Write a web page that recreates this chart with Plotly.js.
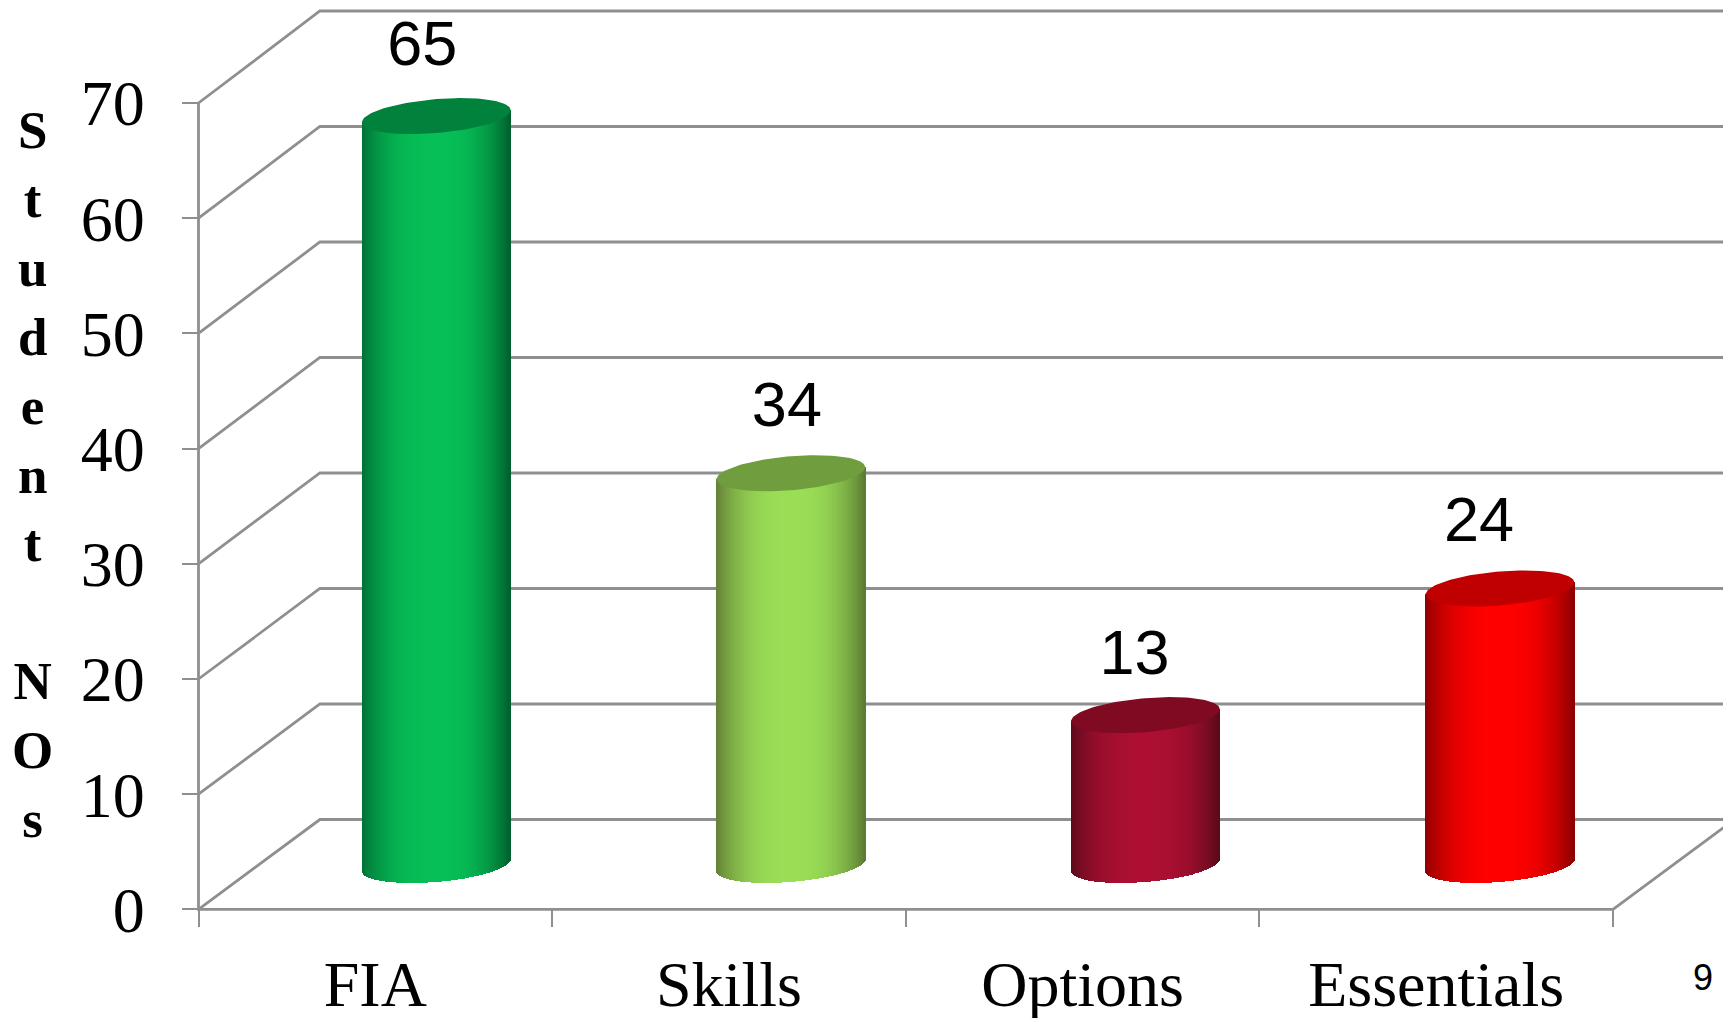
<!DOCTYPE html>
<html>
<head>
<meta charset="utf-8">
<title>Student numbers by pathway</title>
<script src="https://cdn.plot.ly/plotly-3.0.1.min.js"></script>
<style>html,body{margin:0;padding:0;background:#fff;overflow:hidden}</style>
</head>
<body>
<div id="chart" style="width:1723px;height:1018px"></div>
<script>
// Chart values
const categories = ['FIA', 'Skills', 'Options', 'Essentials'];
const students = [65, 34, 13, 24];
const yTicks = [0, 10, 20, 30, 40, 50, 60, 70];
const titleLetters = ['S', 't', 'u', 'd', 'e', 'n', 't', '&nbsp;', 'N', 'O', 's'];

// Cylinder colours: shaded edge left / right, bright centre, lid
const edgeLeft = ['#006f36', '#647f37', '#5f0a1c', '#8f0000'];
const edgeRight = ['#005f2d', '#5a7a31', '#5a0a1a', '#8a0000'];
const centres = ['#06bf56', '#9ade56', '#ac0f31', '#ff0000'];
const lids = ['#00823c', '#709d3e', '#7f0a22', '#c00000'];

// Figure geometry: the axes fill the figure, and the front plane of the box
// is located inside them by these pixel positions
const W = 1723, H = 1018;
const frontLeft = 198.5, frontRight = 1613, frontBottom = 909.4, frontTop = 103;
const pxPerCat = (frontRight - frontLeft) / categories.length;
const pxPerUnit = (frontBottom - frontTop) / 70;
const toXUnits = px => px / pxPerCat;
const toYUnits = px => px / pxPerUnit;
const x0 = -0.5, x1 = categories.length - 0.5;
const xRange = [x0 - toXUnits(frontLeft), x0 + toXUnits(W - frontLeft)];
const yRange = [-toYUnits(H - frontBottom), toYUnits(frontBottom)];

// Depth of the box drawn behind the front plane; the back wall is very
// slightly taller than the front plane
const depthX = toXUnits(121.4), depthY = toYUnits(89.9), backScale = 1.0026;

// Wall and floor lines, each running from the front plane to the back wall,
// followed by the two front axis lines
const gridX = [], gridY = [];
yTicks.forEach(v => {
  gridX.push(x0, x0 + depthX, xRange[1], null);
  gridY.push(v, v * backScale + depthY, v * backScale + depthY, null);
});
gridX.push(x1, x1 + depthX, null, x0, x0, x1);
gridY.push(0, depthY, null, yTicks[yTicks.length - 1], 0, 0);

// Cylinders stand half way into the box
const midY = toYUnits(44.5);
const cylinderHalf = toXUnits(74.3);
const tiltY = toYUnits(6), capY = toYUnits(17);
const cylinderX = i => i + toXUnits(61 + i * 0.95);

// The side wall is built from narrow shaded bars
const STRIPS = 150;
const hexToRgb = h => [1, 3, 5].map(p => parseInt(h.substr(p, 2), 16));
function shade(i, u) {
  const amount = Math.pow(Math.abs(u), 2.6);
  const from = hexToRgb(centres[i]), to = hexToRgb(u < 0 ? edgeLeft[i] : edgeRight[i]);
  return 'rgb(' + from.map((c, k) => Math.round(c + (to[k] - c) * amount)).join(',') + ')';
}
const bodyX = [], bodyBase = [], bodyY = [], bodyOffset = [], bodyWidth = [], bodyColor = [];
students.forEach((value, i) => {
  const stripW = 2 * cylinderHalf / STRIPS;
  for (let k = 0; k < STRIPS; k++) {
    const u = -1 + (k + 0.5) * 2 / STRIPS;
    const base = midY + tiltY * u - capY * Math.sqrt(1 - u * u);
    const top = value + midY + tiltY * u;
    bodyX.push(i);
    bodyBase.push(base);
    bodyY.push(top - base);
    bodyOffset.push(cylinderX(i) - i + u * cylinderHalf - stripW / 2);
    bodyWidth.push(stripW);
    bodyColor.push(shade(i, u));
  }
});

// Lid of each cylinder
const lidTraces = students.map((value, i) => {
  const xs = [], ys = [];
  for (let d = 0; d <= 360; d += 3) {
    const t = d * Math.PI / 180;
    xs.push(cylinderX(i) + cylinderHalf * Math.cos(t));
    ys.push(value + midY + tiltY * Math.cos(t) + capY * Math.sin(t));
  }
  return {
    type: 'scatter', mode: 'lines', x: xs, y: ys, xaxis: 'x2', yaxis: 'y',
    fill: 'toself', fillcolor: lids[i], line: {width: 0, color: lids[i]},
    hoverinfo: 'skip', showlegend: false
  };
});

// Value labels sit above the lids, each nudged slightly left
const labelShiftX = [-14, -4, -11, -21];
const labelShiftY = [67, 63, 57, 63];

const grey = '#8f8f8f';
const traces = [
  {
    type: 'scatter', mode: 'lines', x: gridX, y: gridY, xaxis: 'x', yaxis: 'y',
    line: {color: grey, width: 2.8}, hoverinfo: 'skip', showlegend: false, connectgaps: false
  },
  {
    type: 'bar', x: bodyX, base: bodyBase, y: bodyY, offset: bodyOffset, width: bodyWidth,
    xaxis: 'x2', yaxis: 'y', opacity: 1, marker: {color: bodyColor, opacity: 1, line: {width: 0}},
    hoverinfo: 'skip', showlegend: false
  },
  ...lidTraces,
  {
    type: 'scatter', mode: 'text', xaxis: 'x2', yaxis: 'y',
    x: students.map((v, i) => cylinderX(i) + toXUnits(labelShiftX[i])),
    y: students.map((v, i) => v + midY + toYUnits(labelShiftY[i])),
    text: students.map(String), textposition: 'middle center',
    textfont: {family: '"Liberation Sans", Arial, sans-serif', size: 63, color: '#000'},
    hoverinfo: 'skip', showlegend: false
  }
];

const serifTicks = {family: '"Liberation Serif", "Times New Roman", serif', size: 64, color: '#000'};
const layout = {
  width: W, height: H,
  margin: {l: 0, r: 0, t: 0, b: 0},
  paper_bgcolor: '#fff', plot_bgcolor: 'rgba(0,0,0,0)',
  showlegend: false, hovermode: false, barmode: 'group', bargap: 0, bargroupgap: 0,
  xaxis: {
    domain: [0, 1], range: xRange, type: 'linear', anchor: 'free', position: (H - frontBottom) / H,
    tickmode: 'array', tickvals: categories.concat('').map((c, i) => i - 0.5),
    showticklabels: false, ticks: 'outside', ticklen: 17, tickwidth: 2.4, tickcolor: grey,
    showline: false, showgrid: false, zeroline: false, fixedrange: true
  },
  xaxis2: {
    overlaying: 'x', anchor: 'free', position: (H - frontBottom) / H, side: 'bottom', domain: [0, 1],
    range: xRange, type: 'linear',
    tickmode: 'array', tickvals: categories.map((c, i) => i), ticktext: categories,
    ticks: '', ticklabelstandoff: 32, tickfont: serifTicks,
    showline: false, showgrid: false, zeroline: false, fixedrange: true
  },
  yaxis: {
    domain: [0, 1], range: yRange, anchor: 'free', position: frontLeft / W,
    tickmode: 'array', tickvals: yTicks, ticktext: yTicks.map(String),
    ticks: 'outside', ticklen: 17, tickwidth: 2.4, tickcolor: grey, ticklabelstandoff: 24,
    tickfont: serifTicks,
    showline: false, showgrid: false, zeroline: false, fixedrange: true
  },
  annotations: [
    {
      text: '<b>' + titleLetters.join('<br>') + '</b>', xref: 'paper', yref: 'paper',
      x: 32 / W, y: 1 - 475 / H, xanchor: 'center', yanchor: 'middle', align: 'center',
      showarrow: false,
      font: {family: '"Liberation Serif", "Times New Roman", serif', size: 53, color: '#000'}
    },
    {
      text: '9', xref: 'paper', yref: 'paper', x: 1703 / W, y: 1 - 977 / H,
      xanchor: 'center', yanchor: 'middle', showarrow: false,
      font: {family: '"Liberation Sans", Arial, sans-serif', size: 36, color: '#000'}
    }
  ]
};

Plotly.newPlot('chart', traces, layout, {displayModeBar: false});
</script>
</body>
</html>
